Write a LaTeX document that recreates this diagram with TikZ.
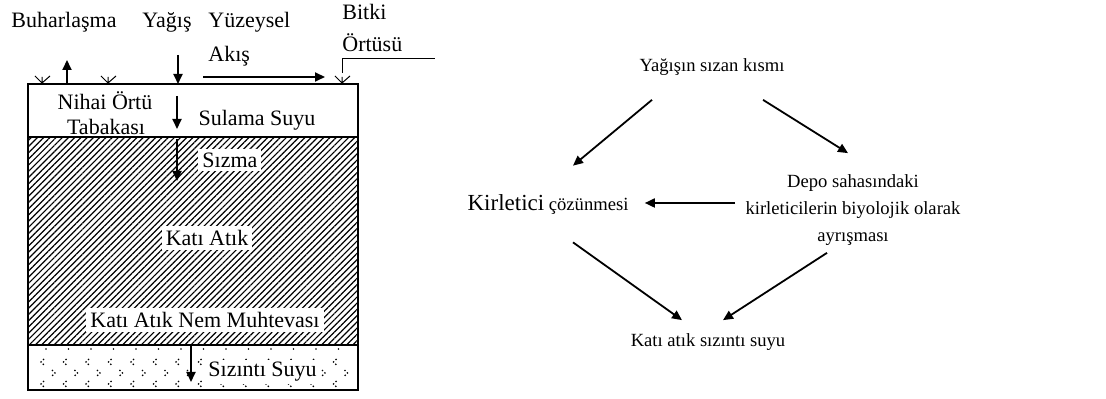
\documentclass[tikz,border=0pt]{standalone}
\usepackage{fontspec}
\setmainfont{Liberation Serif}
\usetikzlibrary{arrows.meta,positioning,calc,patterns.meta}

\tikzset{
  flow/.style={-{Triangle[length=5pt,width=4.5pt]}, line width=0.9pt},
  lbl/.style={font=\fontsize{11}{12.5}\selectfont, inner sep=1pt, align=center},
  onhatch/.style={lbl, fill=white, inner sep=2pt},
  rlbl/.style={font=\fontsize{9.3}{13.5}\selectfont, align=center, inner sep=1pt},
  layer/.style={line width=1.4pt},
  tuft/.style={line width=0.5pt}
}
\newcommand{\grass}[1]{%
  \draw[tuft] (#1,83) -- ++(-7,-7) (#1,83) -- ++(0,-6) (#1,83) -- ++(8,-7);}

\begin{document}
\begin{tikzpicture}[x=0.5pt,y=-0.5pt]
  \useasboundingbox (0,0) rectangle (1106,399);

  % Landfill layers
  \fill[pattern={Lines[angle=45,distance=2.2pt,line width=0.6pt]}] (28,138) rectangle (358,345);
  \foreach \xx in {43,65.5,...,350} {
    \draw[line width=0.7pt, densely dotted] (\xx+1,359) -- (\xx-2,362) -- (\xx+1,365);
    \draw[line width=0.7pt, densely dotted] (\xx+1,381) -- (\xx-2,384) -- (\xx+1,387);
    \draw[line width=0.7pt, densely dotted] (\xx+9,370) -- (\xx+12,373) -- (\xx+9,376);
    \fill (\xx+3,349) circle (0.8);
  }
  \draw[layer] (28,84) rectangle (358,390);
  \draw[layer] (28,137) -- (358,137);
  \draw[layer] (28,345) -- (358,345);

  % Surface
  \grass{42} \grass{108} \grass{342}
  \draw[tuft] (342,73) -- (342,59) -- (435,59);
  \node[lbl] (buhar) at (64,22) {Buharlaşma};
  \node[lbl] (yagis) at (167,22) {Yağış};
  \node[lbl, anchor=west] (yuzey) at (206,22) {Yüzeysel};
  \node[lbl, anchor=west] (akis) at (206,56) {Akış};
  \node[lbl, anchor=west] (bitki) at (340,12) {Bitki};
  \node[lbl, anchor=west] (ortu) at (340,43) {Örtüsü};
  \coordinate (buharA) at (67,84);
  \coordinate (buharB) at (67,60);
  \coordinate (yagisA) at (178,55);
  \coordinate (yagisB) at (178,84);
  \coordinate (akisA) at (203,77);
  \coordinate (akisB) at (325,77);
  \draw[flow] (buharA) -- (buharB);
  \draw[flow] (yagisA) -- (yagisB);
  \draw[flow] (akisA) -- (akisB);

  % Inside
  \node[lbl] (nihai) at (105,101) {Nihai Örtü};
  \node[lbl] (tabaka) at (106,127) {Tabakası};
  \node[lbl] (sulama) at (257,120) {Sulama Suyu};
  \coordinate (sulA) at (177,96);
  \coordinate (sulB) at (177,129);
  \draw[flow] (sulA) -- (sulB);
  \node[onhatch, anchor=west] (sizma) at (198,160) {Sızma};
  \coordinate (sizA) at (177,139);
  \coordinate (sizB) at (177,181);
  \draw[flow] (sizA) -- (sizB);
  \node[onhatch] (katiatik) at (207,238) {Katı Atık};
  \node[onhatch] (nem) at (205,320) {Katı Atık Nem Muhtevası};
  \node[lbl, fill=white, anchor=west] (sizinti) at (206,372) {Sızıntı Suyu};
  \coordinate (sizinA) at (191,346);
  \coordinate (sizinB) at (191,382);
  \draw[flow] (sizinA) -- (sizinB);

  % Right diagram
  \node[rlbl] (top) at (712,67) {Yağışın sızan kısmı};
  \node[rlbl] (kirl) at (548,205) {{\fontsize{11.5}{13}\selectfont Kirletici} çözünmesi};
  \node[rlbl] (depo) at (853,210) {Depo sahasındaki\\kirleticilerin biyolojik olarak\\ayrışması};
  \node[rlbl] (sizsuyu) at (708,342) {Katı atık sızıntı suyu};
  \draw[flow] ($(top.south)+(-60,22)$) -- ($(kirl.north)+(25,-27)$);
  \draw[flow] ($(top.south)+(51,22)$) -- ($(depo.north)+(-5,-19)$);
  \draw[flow] ($(depo.west)+(-8,-7)$) -- ($(kirl.east)+(14,-2)$);
  \draw[flow] ($(kirl.south)+(25,25)$) -- ($(sizsuyu.north)+(-26,-11)$);
  \draw[flow] ($(depo.south)+(-26,5)$) -- ($(sizsuyu.north)+(15,-11)$);
\end{tikzpicture}
\end{document}
